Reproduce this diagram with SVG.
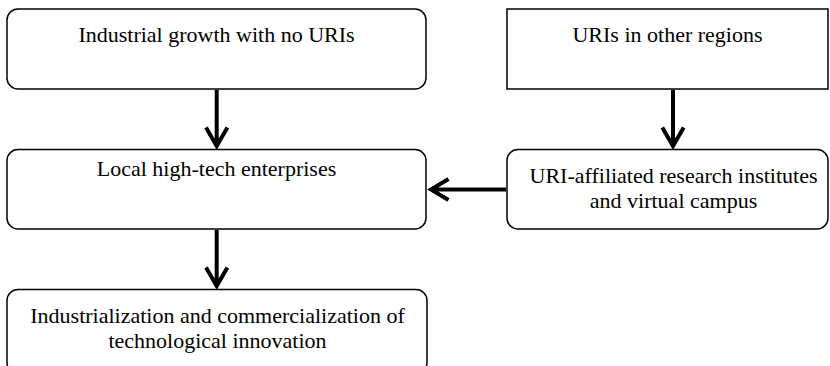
<svg xmlns="http://www.w3.org/2000/svg" width="830" height="366" viewBox="0 0 830 366">
<style>
.box{fill:#fff;stroke:#000;stroke-width:1.5}
.t{font-family:"Liberation Serif","Times New Roman",serif;font-size:22px;fill:#000;text-anchor:middle}
.c{stroke:#000;stroke-width:4;fill:none;stroke-linejoin:miter}
</style>
<rect width="830" height="366" fill="#fff"/>
<g id="n1"><rect class="box" x="7" y="9" width="419" height="80" rx="11"/><text class="t" x="216.5" y="41.5">Industrial growth with no URIs</text></g>
<g id="n2"><rect class="box" x="507" y="9" width="321" height="80"/><text class="t" x="667.5" y="41.5">URIs in other regions</text></g>
<g id="n3"><rect class="box" x="7" y="149.5" width="419" height="79.5" rx="11"/><text class="t" x="216.5" y="176">Local high-tech enterprises</text></g>
<g id="n4"><rect class="box" x="507" y="149.5" width="321" height="79.5" rx="11"/><text class="t" x="673.5" y="182.5">URI-affiliated research institutes</text><text class="t" x="673.5" y="208">and virtual campus</text></g>
<g id="n5"><rect class="box" x="7" y="289.5" width="420" height="84" rx="11"/><text class="t" x="217.5" y="323">Industrialization and commercialization of</text><text class="t" x="217.5" y="348">technological innovation</text></g>
<g id="connectors">
<path class="c" d="M216.7 90V146M206 127.5L216.7 146L227.4 127.5"/>
<path class="c" d="M673 90V146M662.3 127.5L673 146L683.7 127.5"/>
<path class="c" d="M506 189.5H431M448.5 179L431 189.5L448.5 200"/>
<path class="c" d="M216.7 230V286M206 267.5L216.7 286L227.4 267.5"/>
</g>
</svg>
